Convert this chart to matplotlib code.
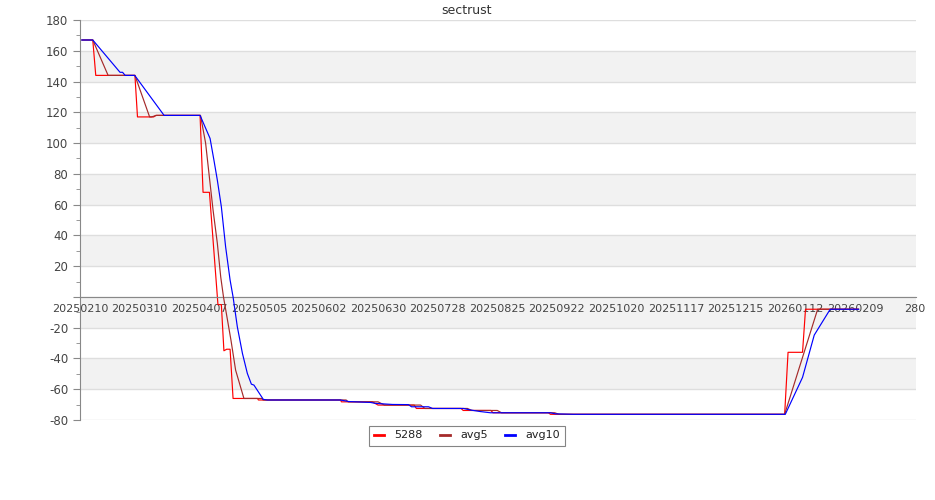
import matplotlib
matplotlib.use("Agg")
import matplotlib.pyplot as plt
from matplotlib.ticker import MultipleLocator

# x values are days since 2025-02-10
red_day = [1, 6, 7.4, 25.8, 27, 34.6, 35.6, 56.4, 57.8, 60.8, 64.8, 66.4, 67.6, 68.9, 70.5, 71.9,
           83.4, 83.8, 122.4, 122.8, 137.3, 140, 157, 158, 179, 180, 193, 194, 220, 221,
           331, 332.6, 339.4, 340.8, 365.6]
red_val = [167, 167, 144, 144, 117, 117, 118, 118, 68, 68, -5, -5, -35, -34, -34, -66,
           -66, -67, -67, -68.2, -68.2, -70.3, -70.3, -72.5, -72.5, -73.8, -73.8, -75.3, -75.3, -76.3,
           -76.3, -36, -36, -8, -8]

avg5_day = [1, 6, 13.2, 25.8, 32.7, 33.5, 36, 56.6, 59.0, 60.6, 62.5, 64.5, 66.1, 67.4, 70.9, 73.1,
            77.0, 85.5, 86, 125, 126, 140, 143, 160, 162, 182, 184, 196, 198, 223, 225,
            331, 346.5, 365.6]
avg5_val = [167, 167, 144, 144, 117, 117, 118, 118, 100, 80, 56.5, 35, 13, 0, -28, -47.6,
            -66, -66, -67, -67, -68.2, -68.2, -70.3, -70.3, -72.5, -72.5, -73.8, -73.8, -75.3, -75.3, -76.3,
            -76.3, -8, -8]

avg10_day = [0.8, 6, 18.8, 20, 21.2, 25.7, 39.5, 56.4, 61.1, 62.9, 64.5, 66.4, 68.4, 70.5, 71.9,
             73.9, 76.3, 78.6, 80.5, 81.7, 86.1, 88, 122.4, 126.2, 136.5, 138.8, 146.8, 154.3,
             155.7, 163.7, 165.6, 180.1, 183.4, 188, 192.8, 221, 223.3, 231.8, 331.3,
             339.4, 344.9, 352.4, 365.8]
avg10_val = [167, 167, 146, 146, 144, 144, 118, 118, 103, 89, 76, 58.6, 32.6, 11, 0,
             -19.4, -36.7, -49.7, -56.7, -57.3, -66.6, -67, -67, -68, -68.6, -69.2, -69.9, -70,
             -71.4, -71.4, -72.5, -72.5, -73.5, -74.5, -75.3, -75.3, -76, -76.3, -76.3,
             -52.3, -24.8, -8, -8]

tick_labels = ['20250210', '20250310', '20250407', '20250505', '20250602', '20250630',
               '20250728', '20250825', '20250922', '20251020', '20251117', '20251215',
               '20260112', '20260209', '280']

fig = plt.figure(figsize=(9.35, 5.0), dpi=100)
ax = fig.add_axes([80 / 935, 80 / 500, 836 / 935, 400 / 500])

# alternating grey bands
for lo in [140, 100, 60, 20, -20, -60]:
    ax.axhspan(lo, lo + 20, color='#f2f2f2', zorder=0, lw=0)
for y in range(-80, 181, 20):
    ax.axhline(y, color='#dedede', lw=1, zorder=0.5)

ax.plot(red_day, red_val, color='#ff0000', lw=0.85, label='5288', zorder=2)
ax.plot(avg5_day, avg5_val, color='#a52a2a', lw=0.85, label='avg5', zorder=3)
ax.plot(avg10_day, avg10_val, color='#0000ff', lw=0.85, label='avg10', zorder=4)

ax.set_xlim(0.3, 392.7)
ax.set_ylim(-80, 180)

# y axis
ax.yaxis.set_minor_locator(MultipleLocator(10))
yt = list(range(-80, 181, 20))
ax.set_yticks(yt)
ax.set_yticklabels(['' if v == 0 else str(v) for v in yt])
ax.tick_params(axis='y', which='major', length=5, color='#888888', labelsize=8.5, labelcolor='#444444')
ax.tick_params(axis='y', which='minor', length=3, color='#888888')

# x axis through zero
ax.spines['bottom'].set_position(('data', 0))
ax.spines['bottom'].set_color('#888888')
ax.spines['left'].set_color('#888888')
ax.spines['top'].set_visible(False)
ax.spines['right'].set_visible(False)
ax.set_xticks([28 * i for i in range(len(tick_labels))])
ax.set_xticklabels(tick_labels)
ax.tick_params(axis='x', length=0, pad=5, labelsize=8, labelcolor='#444444')
for lbl in ax.get_xticklabels():
    lbl.set_zorder(5)

fig.text(467 / 935, 490 / 500, 'sectrust', ha='center', va='center', fontsize=9, color='#333333')

leg = ax.legend(loc='center', bbox_to_anchor=(467 / 935, 64.5 / 500), bbox_transform=fig.transFigure,
                ncol=3, fontsize=8, frameon=True, fancybox=False, handlelength=0.9,
                columnspacing=1.6, handletextpad=0.9, borderpad=0.45)
leg.get_frame().set_edgecolor('#666666')
leg.get_frame().set_linewidth(0.8)
for h in leg.get_lines():
    h.set_linewidth(2)
for t in leg.get_texts():
    t.set_color('#222222')

fig.savefig('out.png', dpi=100)
